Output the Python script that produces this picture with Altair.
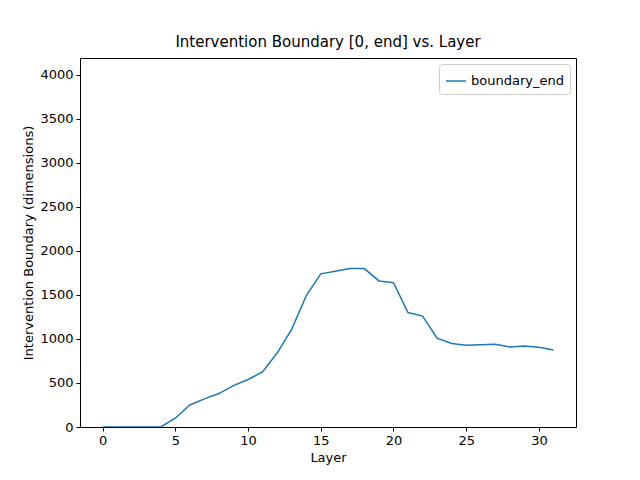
import altair as alt
import pandas as pd

layers = list(range(32))
boundary_end = [0, 0, 0, 0, 0, 100, 250, 320, 380, 470, 540, 625, 840, 1110, 1490, 1740,
                1770, 1800, 1800, 1660, 1640, 1300, 1260, 1010, 950, 930, 935, 940, 910, 920, 905, 875]

df = pd.DataFrame({"Layer": layers, "value": boundary_end, "series": "boundary_end"})

chart = alt.Chart(df).mark_line(color="#1f77b4", strokeWidth=1.5, clip=True).encode(
    x=alt.X("Layer:Q", scale=alt.Scale(domain=[-1.55, 32.55], nice=False, zero=False),
            axis=alt.Axis(values=[0, 5, 10, 15, 20, 25, 30], grid=False, title="Layer",
                          format="d")),
    y=alt.Y("value:Q", scale=alt.Scale(domain=[0, 4193], nice=False),
            axis=alt.Axis(values=list(range(0, 4001, 500)), grid=False, format="d",
                          title="Intervention Boundary (dimensions)")),
    color=alt.Color("series:N", scale=alt.Scale(range=["#1f77b4"]),
                    legend=alt.Legend(title=None, orient="top-right", symbolType="stroke",
                                      symbolStrokeWidth=1.5, symbolSize=400,
                                      strokeColor="#cccccc", fillColor="white",
                                      padding=6, cornerRadius=3, labelFontSize=13,
                                      offset=6)),
).properties(
    width=496, height=369,
    title=alt.TitleParams("Intervention Boundary [0, end] vs. Layer", fontSize=15,
                          fontWeight="normal", offset=8),
    autosize=alt.AutoSizeParams(type="none"),
    padding={"left": 72, "top": 50, "right": 56, "bottom": 45},
).configure_view(stroke="black", strokeWidth=1).configure_axis(
    domainColor="black", tickColor="black", labelColor="black", titleColor="black",
    labelFontSize=13, titleFontSize=13, titleFontWeight="normal", labelFont="DejaVu Sans",
    titleFont="DejaVu Sans", tickSize=4, labelPadding=3, domain=False,
).configure_title(font="DejaVu Sans").configure_legend(labelFont="DejaVu Sans")

chart.save("out.html", embed_options={"renderer": "svg", "actions": False})
